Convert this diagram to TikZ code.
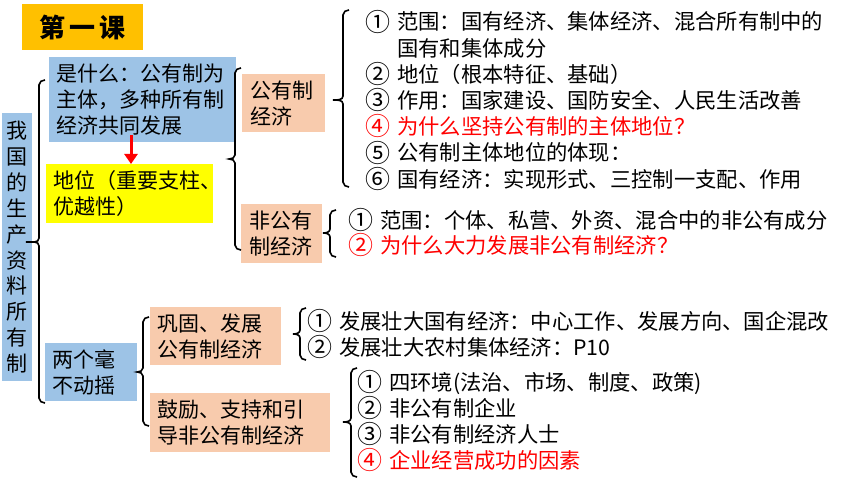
\documentclass[tikz,border=0pt]{standalone}
\usepackage{fontspec}
\setmainfont{Noto Sans CJK SC}
\usetikzlibrary{arrows.meta,calc}
\definecolor{cblue}{HTML}{9DC3E6}
\definecolor{cpeach}{HTML}{F8CBAD}
\definecolor{cyel}{HTML}{FFFF00}
\definecolor{corange}{HTML}{FFC000}
\definecolor{cred}{HTML}{FF0000}
\newcommand\inum[1]{\makebox[32pt][l]{\raisebox{-1.2pt}{\fontsize{25}{26}\selectfont #1}}}
\newcommand\mybrace[5]{\draw[bracestyle] (#1+6,#2) to[out=180,in=90] (#1,#2+5) -- (#1,#5-4) to[out=-90,in=0] (#4,#5) to[out=0,in=90] (#1,#5+4) -- (#1,#3-5) to[out=-90,in=180] (#1+6,#3);}
\begin{document}
\begin{tikzpicture}[x=1pt,y=-1pt,
  box/.style={rectangle, inner xsep=7pt, inner ysep=0pt, anchor=north west, align=left, font=\fontsize{21}{26}\selectfont},
  item/.style={anchor=base west, inner sep=0pt, font=\fontsize{21.3}{26}\selectfont},
  reditem/.style={item, text=cred},
  bracestyle/.style={draw=black, line width=1.6pt},
  redarrow/.style={draw=cred, line width=3pt, -{Triangle[width=13pt,length=10pt]}}]
\useasboundingbox (0,0) rectangle (860,484);
\fill[white] (0,0) rectangle (860,484);

% title
\node[rectangle, fill=corange, anchor=north west, minimum width=121pt, minimum height=46pt, inner sep=0pt,
  font=\fontsize{26}{26}\selectfont\bfseries] (title) at (22,4) {第\hspace{4pt}一\hspace{4pt}课};

% left vertical box
\node[rectangle, fill=cblue, anchor=north west, minimum width=30pt, minimum height=268pt, inner sep=0pt, align=center,
  font=\fontsize{21}{25.9}\selectfont] (root) at (2,113) {我\\国\\的\\生\\产\\资\\料\\所\\有\\制};

% boxes
\node[box, fill=cblue, minimum width=187pt, minimum height=85pt, text width=173pt] (what) at (49,57)
  {是什么：公有制为\\主体，多种所有制\\经济共同发展};
\node[box, fill=cyel, minimum width=167pt, minimum height=59pt, text width=153pt] (status) at (46,164)
  {地位（重要支柱、\\优越性）};
\node[box, fill=cpeach, minimum width=81pt, minimum height=58pt, text width=67pt, inner xsep=8pt] (pub) at (242,74)
  {公有制\\经济};
\node[box, fill=cpeach, minimum width=81pt, minimum height=59pt, text width=65pt, inner xsep=8pt] (nonpub) at (241,204)
  {非公有\\制经济};
\node[box, fill=cblue, minimum width=92pt, minimum height=58pt, text width=78pt] (twono) at (45,343)
  {两个毫\\不动摇};
\node[box, fill=cpeach, minimum width=131pt, minimum height=58pt, text width=117pt] (consol) at (150,307)
  {巩固、发展\\公有制经济};
\node[box, fill=cpeach, minimum width=180pt, minimum height=59pt, text width=166pt] (encour) at (150,393)
  {鼓励、支持和引\\导非公有制经济};

% red arrow
\coordinate (arrS) at (131,135);
\draw[redarrow] (arrS) -- (arrS |- status.north);

% braces
\mybrace{39}{80}{403}{26}{242}
\mybrace{235}{68}{250}{229}{159}
\mybrace{343}{10}{187}{333}{100}
\mybrace{330}{210}{257}{323}{233}
\mybrace{143}{317}{426}{137}{372}
\mybrace{300}{308}{360}{293}{334}
\mybrace{351}{368}{477}{343}{422}

% list A
\node[item] (a1) at (365,30) {\inum{①}范围：国有经济、集体经济、混合所有制中的};
\node[item] (a1b) at (397,56.2) {国有和集体成分};
\node[item] (a2) at (365,82.4) {\inum{②}地位（根本特征、基础）};
\node[item] (a3) at (365,108.6) {\inum{③}作用：国家建设、国防安全、人民生活改善};
\node[reditem] (a4) at (365,134.8) {\inum{④}为什么坚持公有制的主体地位？};
\node[item] (a5) at (365,161) {\inum{⑤}公有制主体地位的体现：};
\node[item] (a6) at (365,187.2) {\inum{⑥}国有经济：实现形式、三控制一支配、作用};

% list B
\node[item] (b1) at (348,228) {\inum{①}范围：个体、私营、外资、混合中的非公有成分};
\node[reditem] (b2) at (348,253) {\inum{②}为什么大力发展非公有制经济？};

% list C
\node[item] (c1) at (307,329) {\inum{①}发展壮大国有经济：中心工作、发展方向、国企混改};
\node[item] (c2) at (307,355) {\inum{②}发展壮大农村集体经济：P10};

% list D
\node[item] (d1) at (357,390) {\inum{①}四环境(法治、市场、制度、政策)};
\node[item] (d2) at (357,416) {\inum{②}非公有制企业};
\node[item] (d3) at (357,442) {\inum{③}非公有制经济人士};
\node[reditem] (d4) at (357,468) {\inum{④}企业经营成功的因素};
\end{tikzpicture}
\end{document}
